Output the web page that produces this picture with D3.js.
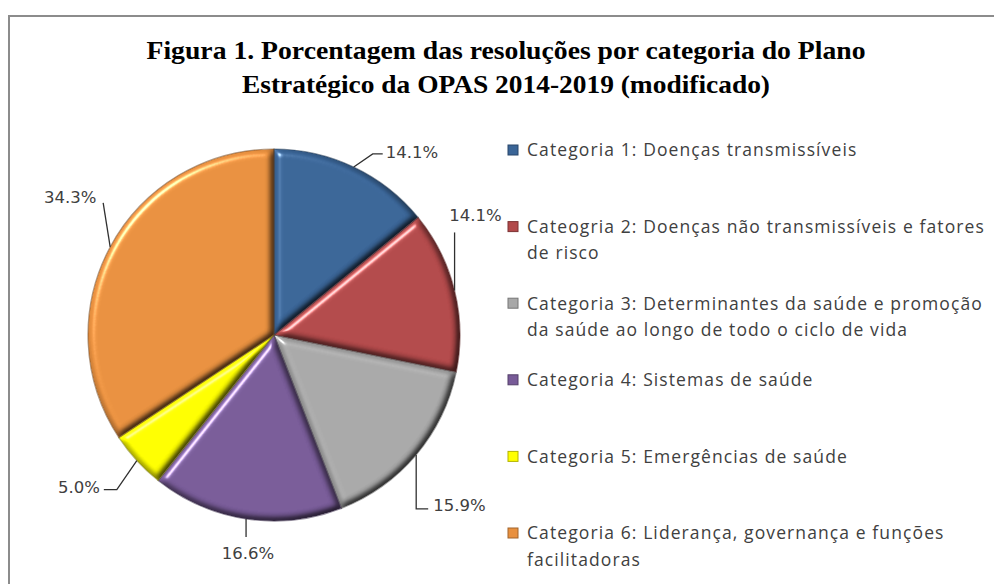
<!DOCTYPE html>
<html>
<head>
<meta charset="utf-8">
<script src="https://cdn.jsdelivr.net/npm/d3@7"></script>
<style>
  body { margin: 0; background: #fff; }
  svg { display: block; }
</style>
</head>
<body>
<svg id="chart"></svg>
<script>
// data
const titleLines = [
    "Figura  1. Porcentagem  das resoluções por categoria do Plano",
    "Estratégico da OPAS 2014-2019 (modificado)"
];
const categories = [
    "Categoria 1: Doenças transmissíveis",
    "Cateogria 2: Doenças não transmissíveis e fatores de risco",
    "Categoria 3: Determinantes da saúde e promoção da saúde ao longo de todo o ciclo de vida",
    "Categoria 4: Sistemas de saúde",
    "Categoria 5: Emergências de saúde",
    "Categoria 6: Liderança, governança e funções facilitadoras"
];
const legendLines = [
    ["Categoria 1: Doenças transmissíveis"],
    ["Cateogria 2: Doenças não transmissíveis e fatores", "de risco"],
    ["Categoria 3: Determinantes da saúde e promoção", "da saúde ao longo de todo o ciclo de vida"],
    ["Categoria 4: Sistemas de saúde"],
    ["Categoria 5: Emergências de saúde"],
    ["Categoria 6: Liderança, governança e funções", "facilitadoras"]
];
const values = [14.1, 14.1, 15.9, 16.6, 5.0, 34.3];

const colors = ["#3a6597", "#b2494a", "#a8a8a8", "#785b98", "#ffff00", "#e8903f"];

// leader lines: elbow / end offsets from the slice edge, and label offset
const leaders = [
    { elbow: [19, -13], end: [29, -13], label: [32, -15], anchor: "start" },
    { elbow: [0, -58], end: [0, -58], label: [21, -75], anchor: "middle" },
    { elbow: [0, 54], end: [12, 54], label: [17, 50], anchor: "start" },
    { elbow: [0, 18], end: [0, 18], label: [2, 34], anchor: "middle" },
    { elbow: [-20, 29], end: [-33, 29], label: [-37, 26], anchor: "end" },
    { elbow: [-7, -44], end: [-7, -44], label: [-40, -50], anchor: "middle" }
];

const W = 994, H = 584;
const cx = 274, cy = 335, radius = 186;

const svg = d3.select("#chart").attr("width", W).attr("height", H);

const defs = svg.append("defs");
const bevel = defs.append("filter").attr("id", "bevel")
    .attr("color-interpolation-filters", "sRGB")
    .attr("x", "-5%").attr("y", "-5%").attr("width", "110%").attr("height", "110%");
bevel.append("feGaussianBlur").attr("in", "SourceAlpha").attr("stdDeviation", 3.5).attr("result", "blur");
bevel.append("feDiffuseLighting").attr("in", "blur").attr("surfaceScale", 5)
    .attr("diffuseConstant", 1.12).attr("lighting-color", "#fff").attr("result", "diff")
    .append("feDistantLight").attr("azimuth", 225).attr("elevation", 63);
bevel.append("feComposite").attr("in", "SourceGraphic").attr("in2", "diff")
    .attr("operator", "arithmetic").attr("k1", 1).attr("k2", 0).attr("k3", 0).attr("k4", 0)
    .attr("result", "shaded");
bevel.append("feSpecularLighting").attr("in", "blur").attr("surfaceScale", 5)
    .attr("specularConstant", 0.6).attr("specularExponent", 40).attr("lighting-color", "#fff").attr("result", "spec")
    .append("feDistantLight").attr("azimuth", 225).attr("elevation", 40);
bevel.append("feComposite").attr("in", "spec").attr("in2", "SourceAlpha").attr("operator", "in").attr("result", "specIn");
bevel.append("feComposite").attr("in", "shaded").attr("in2", "specIn")
    .attr("operator", "arithmetic").attr("k1", 0).attr("k2", 1).attr("k3", 1).attr("k4", 0)
    .attr("result", "lit");
bevel.append("feComposite").attr("in", "lit").attr("in2", "SourceAlpha").attr("operator", "in");

// frame
svg.append("rect")
    .attr("x", 9).attr("y", 16).attr("width", W).attr("height", H)
    .attr("fill", "none").attr("stroke", "#8c8c8c").attr("stroke-width", 2);

// title
svg.append("g").selectAll("text")
    .data(titleLines)
    .enter().append("text")
    .attr("x", 506)
    .attr("y", (d, i) => 59 + i * 34)
    .attr("text-anchor", "middle")
    .attr("textLength", (d, i) => i === 0 ? 719 : 528)
    .attr("lengthAdjust", "spacingAndGlyphs")
    .style("font-family", "'Liberation Serif', 'Times New Roman', serif")
    .style("font-weight", "bold")
    .style("font-size", "26px")
    .style("fill", "#000")
    .text(d => d);

// pie
const pie = d3.pie().sort(null).value(d => d);
const arcs = pie(values);
const arc = d3.arc().innerRadius(0).outerRadius(radius);

const g = svg.append("g").attr("transform", `translate(${cx},${cy})`);

g.selectAll(".slice")
    .data(arcs)
    .enter().append("path")
    .attr("class", "slice")
    .attr("d", arc)
    .attr("fill", (d, i) => colors[i])
    .attr("filter", "url(#bevel)");

g.selectAll(".edge")
    .data(arcs)
    .enter().append("path")
    .attr("class", "edge")
    .attr("d", arc)
    .attr("fill", "none")
    .attr("stroke", (d, i) => d3.color(colors[i]).darker(2))
    .attr("stroke-opacity", 0.55)
    .attr("stroke-width", 1.2);

// labels with leader lines
const edgePoint = d => {
    const a = (d.startAngle + d.endAngle) / 2;
    return [radius * Math.sin(a), -radius * Math.cos(a)];
};

arcs.forEach((d, i) => {
    const p = edgePoint(d);
    const L = leaders[i];
    g.append("polyline")
        .attr("points", [p, [p[0] + L.elbow[0], p[1] + L.elbow[1]], [p[0] + L.end[0], p[1] + L.end[1]]]
            .map(q => q.join(",")).join(" "))
        .attr("fill", "none")
        .attr("stroke", "#303030")
        .attr("stroke-width", 1.3);
    g.append("text")
        .attr("x", p[0] + L.label[0])
        .attr("y", p[1] + L.label[1])
        .attr("dy", "0.36em")
        .attr("text-anchor", L.anchor)
        .style("font-family", "'DejaVu Sans', Verdana, sans-serif")
        .style("font-size", "16.5px")
        .style("fill", "#404040")
        .text(d3.format(".1f")(d.data) + "%");
});

// legend
const legend = svg.append("g").selectAll("g")
    .data(categories)
    .enter().append("g")
    .attr("transform", (d, i) => `translate(508,${150 + i * 76.6})`);

legend.append("rect")
    .attr("x", 0).attr("y", -5).attr("width", 10).attr("height", 10)
    .attr("fill", (d, i) => colors[i])
    .attr("stroke", (d, i) => d3.color(colors[i]).darker(1))
    .attr("stroke-width", 1);

legend.each(function (d, i) {
    d3.select(this).selectAll("text")
        .data(legendLines[i])
        .enter().append("text")
        .attr("x", 19)
        .attr("y", (t, j) => j * 26.5)
        .attr("dy", "0.36em")
        .style("font-family", "'Open Sans', sans-serif")
        .style("font-size", "17.5px")
        .style("letter-spacing", "1.1px")
        .style("fill", "#404040")
        .text(t => t);
});
</script>
</body>
</html>
